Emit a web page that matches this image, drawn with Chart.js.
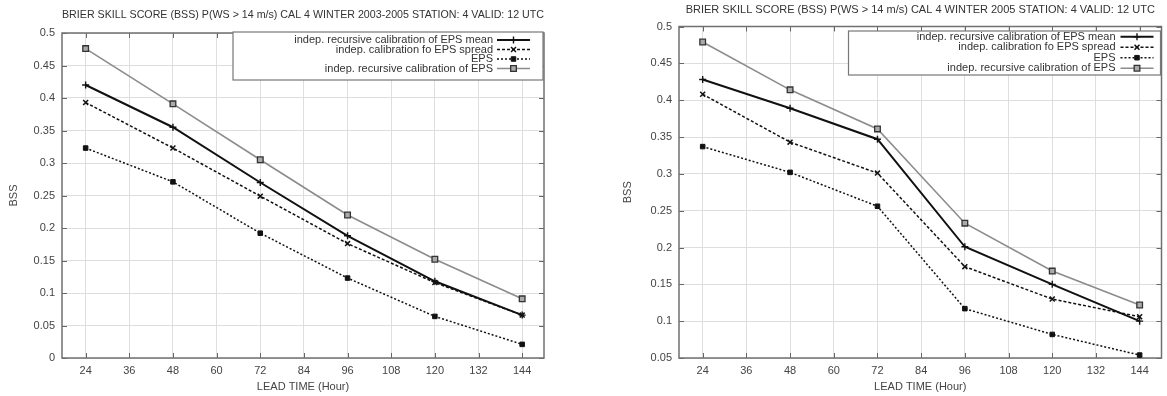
<!DOCTYPE html>
<html><head><meta charset="utf-8">
<script src="https://cdn.jsdelivr.net/npm/chart.js@4.4.1/dist/chart.umd.min.js"></script>
<style>
html,body{margin:0;padding:0;background:#fff;}
#wrap{position:relative;width:1167px;height:396px;overflow:hidden;background:#fff;}
.c{position:absolute;top:0;height:396px;}
#c1{left:0;width:590px;}
#c2{left:590px;width:577px;}
</style></head><body>
<div id="wrap"><div class="c" id="c1"><canvas id="a"></canvas></div><div class="c" id="c2"><canvas id="b"></canvas></div></div>
<script>
// ---- data ----
const leadTimes = [24, 48, 72, 96, 120, 144];
const xTickLabels = [24, 36, 48, 60, 72, 84, 96, 108, 120, 132, 144];
const yTicksLeft = [0, 0.05, 0.1, 0.15, 0.2, 0.25, 0.3, 0.35, 0.4, 0.45, 0.5];
const yTicksRight = [0.05, 0.1, 0.15, 0.2, 0.25, 0.3, 0.35, 0.4, 0.45, 0.5];
const seriesNames = [
  'indep. recursive calibration of EPS mean',
  'indep. calibration fo EPS spread',
  'EPS',
  'indep. recursive calibration of EPS'
];
const titleLeft = 'BRIER SKILL SCORE (BSS) P(WS > 14 m/s) CAL 4 WINTER 2003-2005 STATION: 4 VALID: 12 UTC';
const titleRight = 'BRIER SKILL SCORE (BSS) P(WS > 14 m/s) CAL 4 WINTER 2005 STATION: 4 VALID: 12 UTC';
const xTitle = 'LEAD TIME (Hour)';
const yTitle = 'BSS';

const leftRecEpsMean = [0.420, 0.355, 0.270, 0.188, 0.118, 0.066];
const leftCalSpread  = [0.393, 0.323, 0.249, 0.176, 0.116, 0.066];
const leftEps        = [0.323, 0.271, 0.192, 0.123, 0.064, 0.021];
const leftRecEps     = [0.476, 0.391, 0.305, 0.220, 0.152, 0.091];

const rightRecEpsMean = [0.428, 0.389, 0.347, 0.201, 0.150, 0.100];
const rightCalSpread  = [0.408, 0.343, 0.301, 0.174, 0.130, 0.106];
const rightEps        = [0.337, 0.302, 0.256, 0.117, 0.082, 0.054];
const rightRecEps     = [0.479, 0.414, 0.361, 0.233, 0.168, 0.122];

// ---- styling ----
const FONT = 'Liberation Sans, Arial, Helvetica, sans-serif';
Chart.defaults.font.family = FONT;
Chart.defaults.color = '#444';

const styles = [
  {borderColor:'#111', borderWidth:2, borderDash:[], pointStyle:'cross', pointRadius:3.5, pointBorderWidth:1.4, pointBackgroundColor:'#111', pointBorderColor:'#111'},
  {borderColor:'#111', borderWidth:1.5, borderDash:[3,2], pointStyle:'crossRot', pointRadius:3.5, pointBorderWidth:1.5, pointBackgroundColor:'#111', pointBorderColor:'#111'},
  {borderColor:'#111', borderWidth:1.5, borderDash:[2,2], pointStyle:'rect', pointRadius:3.2, pointBorderWidth:1, pointBackgroundColor:'#111', pointBorderColor:'#111'},
  {borderColor:'#8c8c8c', borderWidth:1.6, borderDash:[], pointStyle:'rect', pointRadius:4, pointBorderWidth:1.3, pointBackgroundColor:'#aaa', pointBorderColor:'#333'}
];

function ds(values, k) {
  return Object.assign({
    label: seriesNames[k],
    data: leadTimes.map((t, i) => ({x: t, y: values[i]})),
    fill: false, tension: 0, pointHoverRadius: 4
  }, styles[k]);
}

const frameTicks = {
  id: 'frameTicks',
  beforeDatasetsDraw(chart) {
    const {ctx, chartArea: a, scales} = chart;
    ctx.save();
    ctx.strokeStyle = '#666';
    ctx.lineWidth = 1;
    scales.x.ticks.forEach(t => {
      const px = Math.round(scales.x.getPixelForValue(t.value)) + 0.5;
      ctx.beginPath();
      ctx.moveTo(px, a.bottom); ctx.lineTo(px, a.bottom - 5);
      ctx.moveTo(px, a.top); ctx.lineTo(px, a.top + 5);
      ctx.stroke();
    });
    scales.y.ticks.forEach(t => {
      const py = Math.round(scales.y.getPixelForValue(t.value)) + 0.5;
      ctx.beginPath();
      ctx.moveTo(a.left, py); ctx.lineTo(a.left + 5, py);
      ctx.moveTo(a.right, py); ctx.lineTo(a.right - 5, py);
      ctx.stroke();
    });
    ctx.strokeStyle = '#707070';
    ctx.lineWidth = 1.5;
    ctx.strokeRect(a.left, a.top, a.right - a.left, a.bottom - a.top);
    ctx.restore();
  }
};

const boxLegend = {
  id: 'boxLegend',
  afterDatasetsDraw(chart, args, o) {
    const {ctx, chartArea: a} = chart;
    const R = a.right - 1;
    const L = R - o.width;
    const T = a.top + o.top;
    ctx.save();
    ctx.fillStyle = '#fff';
    ctx.fillRect(L, T, o.width, o.height);
    ctx.strokeStyle = '#777';
    ctx.lineWidth = 1.2;
    ctx.strokeRect(L, T, o.width, o.height);
    ctx.font = o.fontSize + 'px ' + FONT;
    ctx.textAlign = 'right';
    ctx.textBaseline = 'middle';
    chart.data.datasets.forEach((d, i) => {
      const y = T + o.firstRow + i * o.rowStep;
      ctx.fillStyle = '#333';
      ctx.fillText(d.label, R - o.textEnd, y);
      ctx.save();
      ctx.strokeStyle = d.borderColor;
      ctx.lineWidth = d.borderWidth;
      ctx.setLineDash(d.borderDash || []);
      ctx.beginPath();
      ctx.moveTo(R - o.sampleStart, y); ctx.lineTo(R - o.sampleEnd, y);
      ctx.stroke();
      ctx.setLineDash([]);
      ctx.fillStyle = d.pointBackgroundColor;
      ctx.strokeStyle = d.pointBorderColor;
      ctx.lineWidth = d.pointBorderWidth;
      Chart.helpers.drawPoint(ctx, {pointStyle: d.pointStyle, radius: d.pointRadius, rotation: 0, borderWidth: d.pointBorderWidth}, R - (o.sampleStart + o.sampleEnd) / 2, y);
      ctx.restore();
    });
    ctx.restore();
  }
};

function makeChart(id, cfg) {
  return new Chart(document.getElementById(id), {
    type: 'line',
    data: {datasets: cfg.series.map((v, k) => ds(v, k))},
    plugins: [frameTicks, boxLegend],
    options: {
      responsive: true, maintainAspectRatio: false, animation: false,
      layout: {padding: {left: 0, right: cfg.padRight, top: 0, bottom: 0}},
      plugins: {
        legend: {display: false},
        tooltip: {enabled: false},
        title: {display: true, text: cfg.title, fullSize: false, color: '#333',
          font: {size: 11, weight: 'normal', family: FONT},
          padding: {top: cfg.titleTop, bottom: cfg.titleBottom}},
        boxLegend: cfg.legend
      },
      scales: {
        x: {
          type: 'linear', min: 17.5, max: 150,
          afterBuildTicks: ax => { ax.ticks = xTickLabels.map(v => ({value: v})); },
          afterFit: ax => { ax.height = 38; },
          grid: {color: '#dedede', lineWidth: 1, drawTicks: false},
          border: {display: false},
          ticks: {padding: 6, color: '#444', font: {size: 11}, maxRotation: 0, autoSkip: false},
          title: {display: true, text: xTitle, color: '#444', font: {size: 11}, padding: {top: 0, bottom: 2.4}}
        },
        y: {
          type: 'linear', min: cfg.yTicks[0], max: cfg.yTicks[cfg.yTicks.length - 1],
          afterBuildTicks: ax => { ax.ticks = cfg.yTicks.map(v => ({value: v})); },
          afterFit: ax => { ax.width = cfg.yWidth; },
          grid: {color: '#dedede', lineWidth: 1, drawTicks: false},
          border: {display: false},
          ticks: {padding: 7, color: '#444', font: {size: 11}, autoSkip: false,
            callback: v => String(Number(v.toFixed(2)))},
          title: {display: true, text: yTitle, color: '#444', font: {size: 11}, padding: {top: cfg.yTitlePad, bottom: 0}}
        }
      }
    }
  });
}

makeChart('a', {
  series: [leftRecEpsMean, leftCalSpread, leftEps, leftRecEps],
  title: titleLeft, yTicks: yTicksLeft, padRight: 46, yWidth: 62, yTitlePad: 7.4,
  titleTop: 8.4, titleBottom: 11.4,
  legend: {width: 310, height: 48, top: -1, firstRow: 8, rowStep: 9.5, fontSize: 11,
    textEnd: 50, sampleStart: 46, sampleEnd: 13}
});
makeChart('b', {
  series: [rightRecEpsMean, rightCalSpread, rightEps, rightRecEps],
  title: titleRight, yTicks: yTicksRight, padRight: 4, yWidth: 89, yTitlePad: 31.4,
  titleTop: 3.4, titleBottom: 9.9,
  legend: {width: 312, height: 44, top: 4.5, firstRow: 5.7, rowStep: 10.5, fontSize: 11,
    textEnd: 45, sampleStart: 40, sampleEnd: 7}
});
</script>
</body></html>
